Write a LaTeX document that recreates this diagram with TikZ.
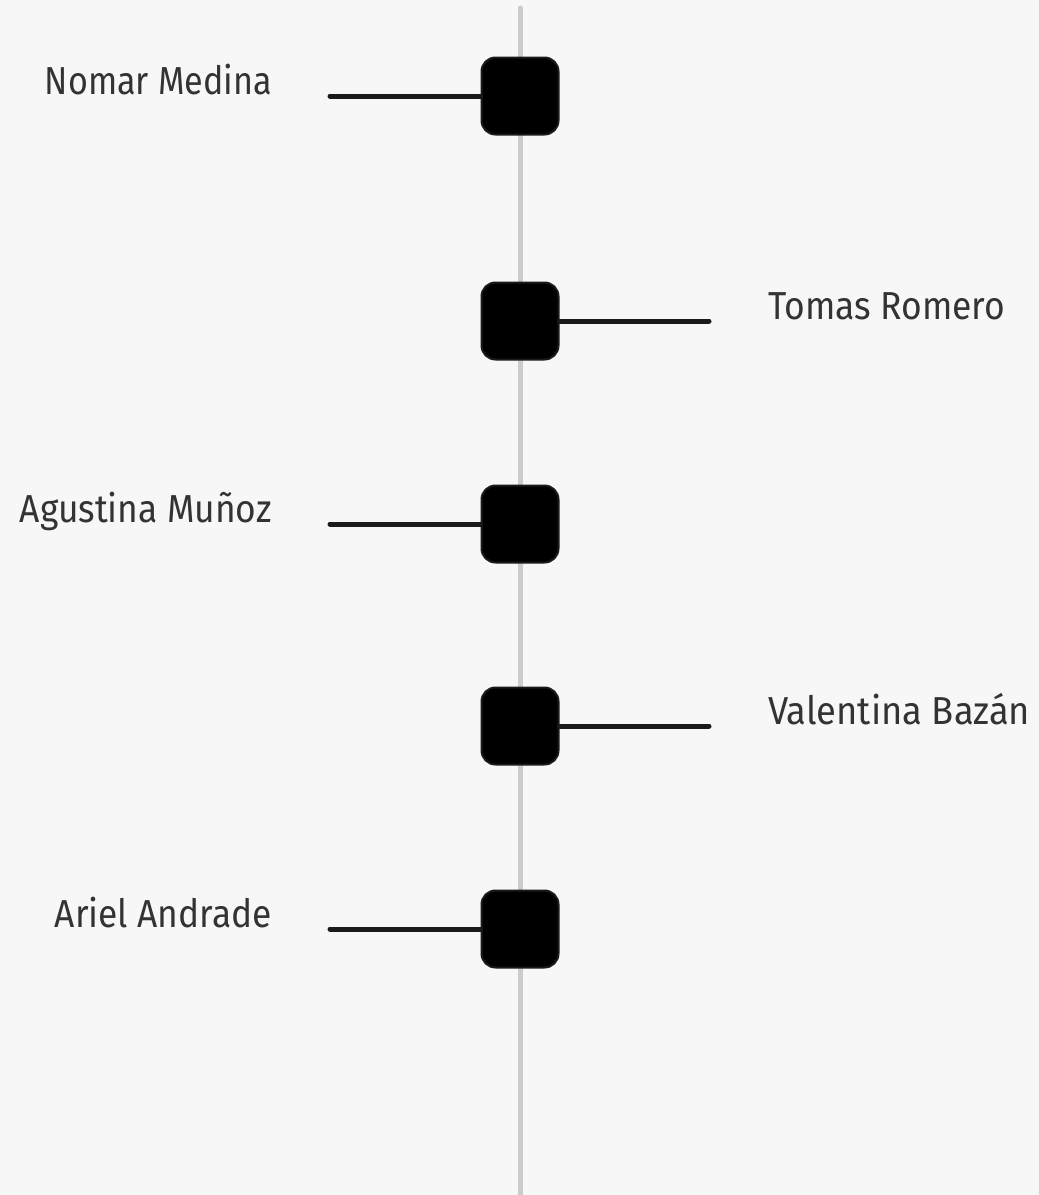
\documentclass[tikz,border=0pt]{standalone}
\usepackage{fontspec}
\setmainfont{Fira Sans}
\definecolor{bg}{HTML}{F7F7F7}
\definecolor{axis}{HTML}{CCCCCC}
\definecolor{ink}{HTML}{1A1A1A}
\definecolor{txt}{HTML}{333333}
\newlength\lblw
\newcommand\fitlbl[2]{\settowidth\lblw{#2}\scalebox{\fpeval{#1/\lblw}}[1]{#2}}
\tikzset{
  evbox/.style={minimum width=77pt,minimum height=77pt,inner sep=0pt,rounded corners=14pt,fill=black,draw=ink,line width=2pt},
  conn/.style={draw=ink,line width=5pt,line cap=round},
  lbl/.style={text=txt,inner sep=0pt,font=\fontsize{39pt}{44pt}\selectfont},
}
\begin{document}
\begin{tikzpicture}[x=1pt,y=-1pt]
\fill[bg] (0,0) rectangle (1039,1195);
\useasboundingbox (0,0) rectangle (1039,1195);
\coordinate (top) at (520,8);
\coordinate (bot) at (520,1200);
\draw[axis,line width=5pt,line cap=round] (top) -- (bot);
% left events
\foreach \n/\y/\w/\t in {a/96/227pt/Nomar Medina,c/524/252pt/Agustina Muñoz,e/929/217pt/Ariel Andrade}{
  \coordinate (\n s) at (330,\y);
  \node[evbox] (\n) at (520,\y) {};
  \draw[conn] (\n s) -- (\n.west);
  \node[lbl,anchor=base east] (\n l) at (272,\y-2) {\fitlbl{\w}{\t}};
}
\foreach \n/\y/\w/\t in {b/321/237pt/Tomas Romero,d/726/262pt/Valentina Bazán}{
  \coordinate (\n s) at (709,\y);
  \node[evbox] (\n) at (520,\y) {};
  \draw[conn] (\n.east) -- (\n s);
  \node[lbl,anchor=base west] (\n l) at (768,\y-2) {\fitlbl{\w}{\t}};
}
\end{tikzpicture}
\end{document}
